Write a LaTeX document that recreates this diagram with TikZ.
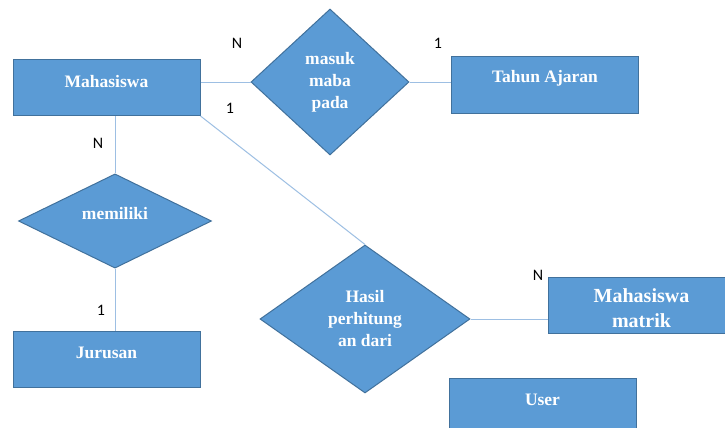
\documentclass[tikz,border=0pt]{standalone}
\usepackage{fontspec}
\setmainfont{Liberation Serif}
\newfontfamily\cardfont{Carlito}
\usetikzlibrary{shapes.geometric}
\definecolor{erfill}{HTML}{5B9BD5}
\definecolor{erdraw}{HTML}{41719C}
\definecolor{erline}{HTML}{9DBFE3}
\tikzset{
    entity/.style = {draw = erdraw, fill = erfill, line width = 1pt, minimum width = 187pt, minimum height = 56pt, inner sep = 0pt},
    relation/.style = {diamond, draw = erdraw, fill = erfill, line width = 1pt, inner sep = 0pt, text = white, align = center, font = \bfseries\fontsize{17.5}{22}\selectfont},
    etext/.style = {text = white, inner sep = 0pt, align = center, font = \bfseries\fontsize{17.5}{22}\selectfont},
    card/.style = {inner sep = 0pt, font = \cardfont\fontsize{16}{18}\selectfont},
    link/.style = {draw = erline, line width = 1pt}
}

\begin{document}
\begin{tikzpicture}[x = 1pt, y = -1pt]
    \useasboundingbox (0,0) rectangle (725,428);
    \fill[white] (0,0) rectangle (725,428);
    \clip (0,0) rectangle (725,428);
    \node[entity] (mhs) at (106.5,87.5) {};
    \node[etext] (mhsT) at ([yshift = -23pt]mhs.north) {Mahasiswa};
    \node[entity] (tahun) at (545,85) {};
    \node[etext] (tahunT) at ([yshift = -22pt]tahun.north) {Tahun Ajaran};
    \node[entity] (jurusan) at (106.5,359) {};
    \node[etext] (jurusanT) at ([yshift = -22pt]jurusan.north) {Jurusan};
    \node[entity] (matrik) at (641.5,305) {};
    \node[etext, font = \bfseries\fontsize{20}{25}\selectfont] (matrikT) at ([yshift = -3.5pt]matrik.center) {Mahasiswa\\matrik};
    \node[entity] (user) at (542.5,406) {};
    \node[etext] (userT) at ([yshift = -22pt]user.north) {User};
    \node[relation, minimum width = 158pt, minimum height = 146pt] (masuk) at (330,82) {masuk\\maba\\pada};
    \node[relation, minimum width = 193pt, minimum height = 91pt, text depth = 16pt] (memiliki) at (115,221) {memiliki};
    \node[relation, minimum width = 210pt, minimum height = 148pt] (hasil) at (365,319) {Hasil\\perhitung\\an dari};
    \draw[link] (mhs.east |- masuk.west) -- (masuk.west);
    \draw[link] (masuk.east) -- (masuk.east -| tahun.west);
    \draw[link] (memiliki.north |- mhs.south) -- (memiliki.north);
    \draw[link] (memiliki.south) -- (memiliki.south |- jurusan.north);
    \draw[link] (mhs.south east) -- (hasil.north);
    \draw[link] (hasil.east) -- (hasil.east -| matrik.west);
    \node[card] (nMasuk) at (237,43) {N};
    \node[card] (oMasuk) at (230,108) {1};
    \node[card] (oTahun) at (438,43) {1};
    \node[card] (nMemiliki) at (98,143) {N};
    \node[card] (oJurusan) at (101,310) {1};
    \node[card] (nMatrik) at (538,275) {N};
\end{tikzpicture}
\end{document}
